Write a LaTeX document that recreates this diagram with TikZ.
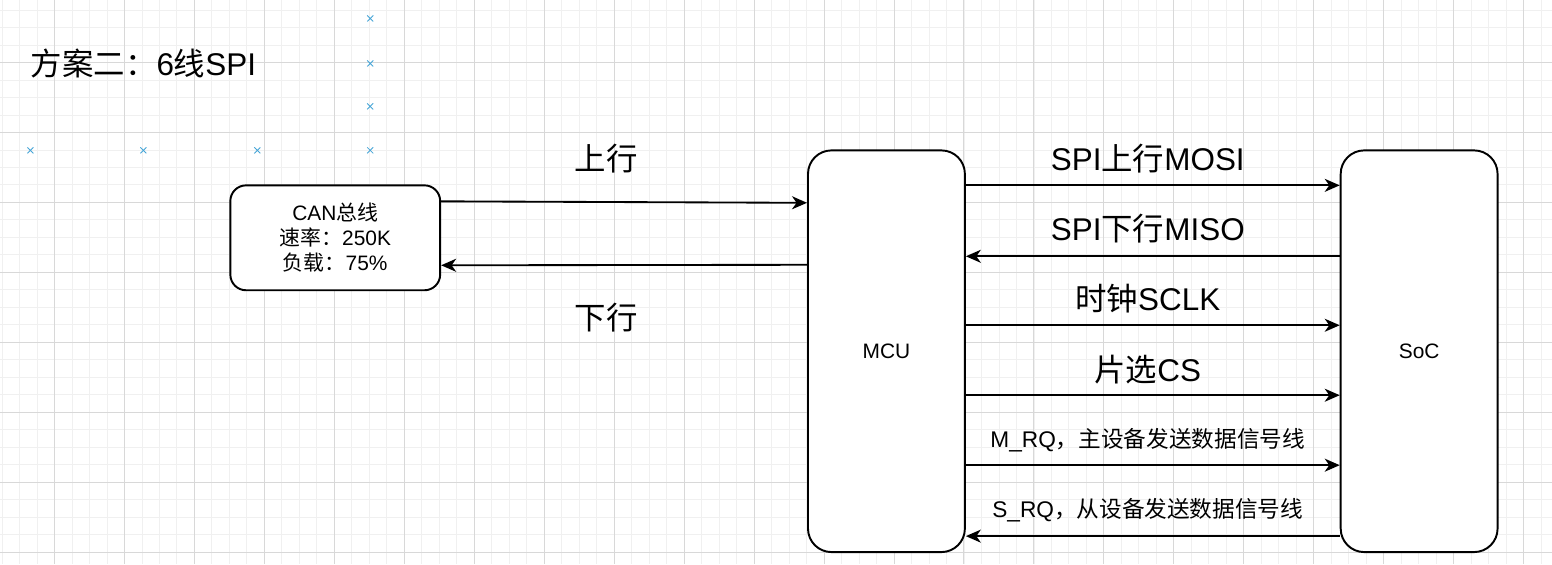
\documentclass[tikz,border=0pt]{standalone}
\usepackage{fontspec}
\setmainfont{Liberation Sans}
\newfontfamily\cjk{Noto Sans CJK SC}
\usetikzlibrary{arrows.meta}
\newcommand\zh[1]{{\cjk #1}}
\definecolor{grid_major}{RGB}{216,216,216}
\definecolor{grid_minor}{RGB}{240,240,240}
\definecolor{mark_blue}{RGB}{70,165,215}

\begin{document}
\begin{tikzpicture}[x=0.02cm,y=-0.02cm,>={Stealth[length=0.3cm,width=0.26cm,inset=0.09cm]}]
    \tikzstyle{box}=[draw=black, line width=1.1pt, rounded corners=0.47cm, fill=white, minimum width=3.14cm, minimum height=8.04cm, inner sep=0pt, font=\fontsize{11.9}{14.2}\selectfont]
    \tikzstyle{canbox}=[style=box, rounded corners=0.315cm, minimum width=4.2cm, minimum height=2.1cm, align=center]
    \tikzstyle{wire}=[line width=1.05pt]
    \tikzstyle{big}=[font=\fontsize{17.9}{21}\selectfont, inner sep=0pt]
    \tikzstyle{small}=[font=\fontsize{12.9}{15}\selectfont, inner sep=0pt]
    \tikzstyle{cross}=[draw=mark_blue, line width=0.5pt]

    % grid paper
    \fill[white] (0,0) rectangle (1552,564);
    \foreach \i in {0,...,88} \draw[grid_minor, line width=0.4pt] (1.5+17.5*\i,0) -- (1.5+17.5*\i,564);
    \foreach \j in {0,...,31} \draw[grid_minor, line width=0.4pt] (0,9.5+17.5*\j) -- (1552,9.5+17.5*\j);
    \foreach \i in {0,...,21} \draw[grid_major, line width=0.5pt] (54+70*\i,0) -- (54+70*\i,564);
    \foreach \j in {0,...,7} \draw[grid_major, line width=0.5pt] (0,62+70*\j) -- (1552,62+70*\j);
    \useasboundingbox (0,0) rectangle (1552,564);

    \foreach \p in {(370,18),(370,63),(370,106),(370,150),(30,150),(143,150),(257,150)}
      \draw[cross] \p +(-3,-3) -- +(3,3) \p +(-3,3) -- +(3,-3);

    \node[big, anchor=west] (title) at (30,63) {\zh{方案二：}6\zh{线}SPI};

    \node[canbox] (can) at (335,237.5) {CAN\zh{总线}\\\zh{速率：}250K\\\zh{负载：}75\%};
    \node[box] (mcu) at (886.5,351) {MCU};
    \node[box] (soc) at (1419.5,351) {SoC};

    % CAN <-> MCU
    \draw[wire,->] (can.east |- 0,201) -- (mcu.west |- 0,202.5);
    \draw[wire,<-] (can.east |- 0,265) -- (mcu.west |- 0,264.5);
    \node[big] (l_up) at (606,158) {\zh{上行}};
    \node[big] (l_dn) at (606,317) {\zh{下行}};

    % MCU <-> SoC
    \draw[wire,->] (mcu.east |- 0,185) -- (soc.west |- 0,185);
    \draw[wire,<-] (mcu.east |- 0,256) -- (soc.west |- 0,256);
    \draw[wire,->] (mcu.east |- 0,325) -- (soc.west |- 0,325);
    \draw[wire,->] (mcu.east |- 0,395) -- (soc.west |- 0,395);
    \draw[wire,->] (mcu.east |- 0,465) -- (soc.west |- 0,465);
    \draw[wire,<-] (mcu.east |- 0,536) -- (soc.west |- 0,536);
    \node[big] (l_mosi) at (1148,158) {SPI\zh{上行}MOSI};
    \node[big] (l_miso) at (1148,228) {SPI\zh{下行}MISO};
    \node[big] (l_sclk) at (1148,298) {\zh{时钟}SCLK};
    \node[big] (l_cs) at (1148,369) {\zh{片选}CS};
    \node[small] (l_mrq) at (1148,440) {M\_RQ\zh{，主设备发送数据信号线}};
    \node[small] (l_srq) at (1148,510) {S\_RQ\zh{，从设备发送数据信号线}};
\end{tikzpicture}
\end{document}
